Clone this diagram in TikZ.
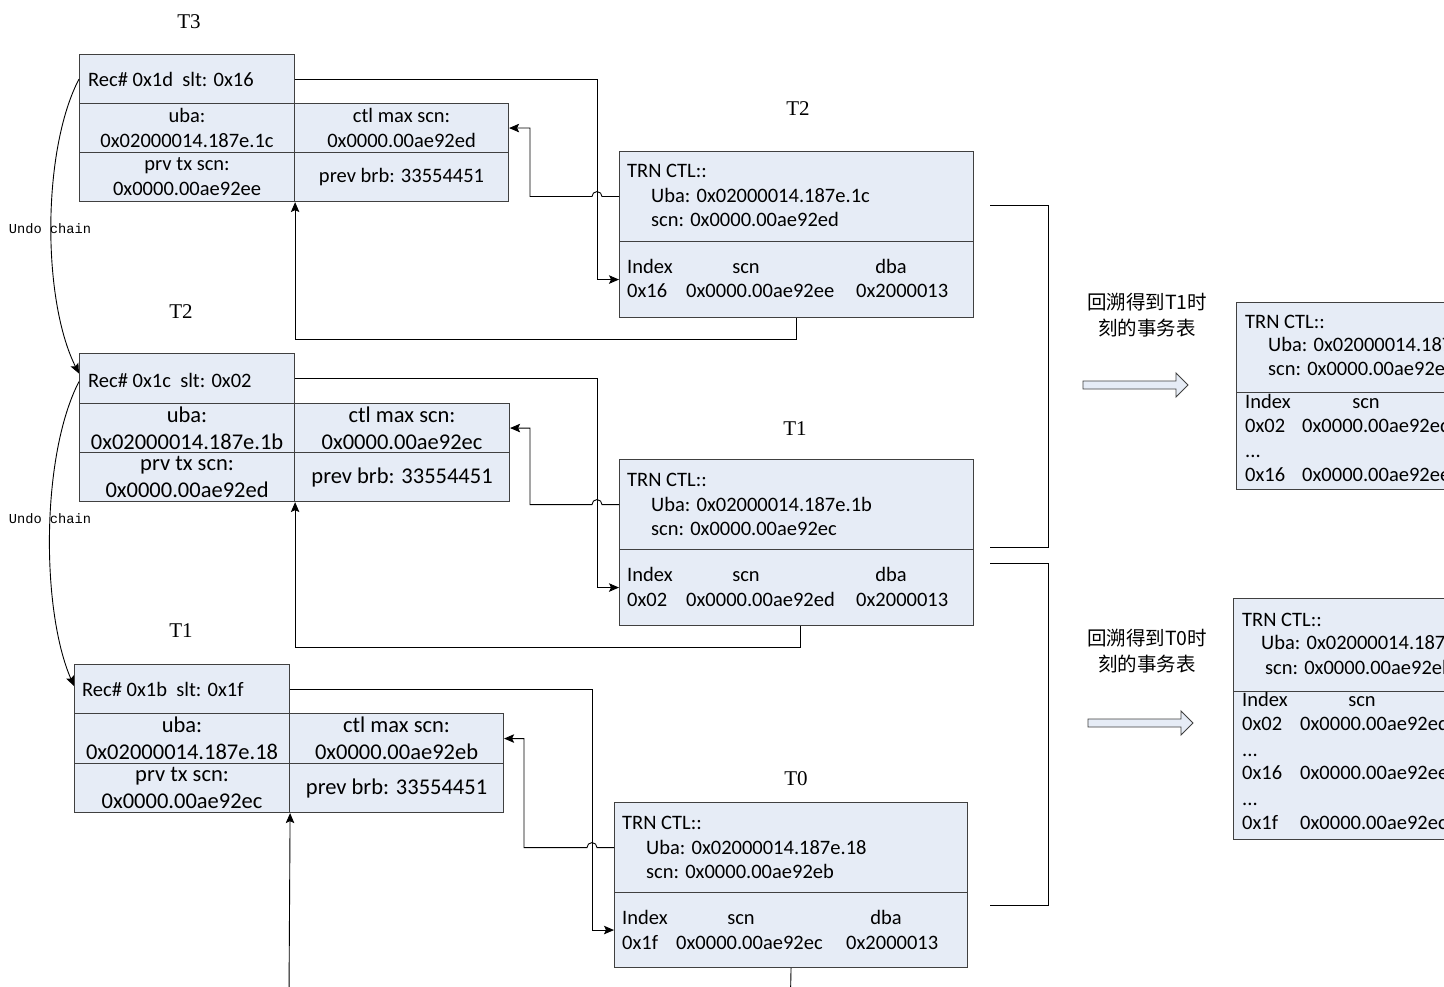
\documentclass[tikz,border=0pt]{standalone}
\usepackage{fontspec}
\setmainfont{Carlito}
\newfontfamily\labelfont{Liberation Serif}
\newfontfamily\chainfont{Liberation Mono}
\newfontfamily\cjkfont{Noto Sans CJK SC}
\usetikzlibrary{arrows.meta}
\definecolor{boxfill}{RGB}{230,236,246}
\definecolor{boxline}{RGB}{64,64,64}
\begin{document}
\begin{tikzpicture}[x=1pt,y=-1pt,
  >={Stealth[length=10pt,width=8.5pt,inset=2pt]},
  box/.style={draw=boxline, fill=boxfill, line width=1.1pt, inner sep=0pt, anchor=north west, align=center},
  fsmall/.style={font=\fontsize{20.5pt}{25pt}\selectfont},
  fbig/.style={font=\fontsize{22.5pt}{27pt}\selectfont},
  txt/.style={inner sep=0pt, anchor=base west, font=\fontsize{20.5pt}{25pt}\selectfont},
  ctxt/.style={txt, anchor=base},
  tlabel/.style={inner sep=0pt, font=\labelfont\fontsize{21pt}{25pt}\selectfont},
  conn/.style={line width=0.9pt, draw=black},
  chain/.style={inner sep=0pt, anchor=base, font=\chainfont\fontsize{13.7pt}{16pt}\selectfont},
  cjk/.style={inner sep=0pt, align=center, font=\cjkfont\fontsize{19.5pt}{26pt}\selectfont},
  blockarrow/.style={draw=boxline, fill=boxfill, line width=0.9pt, line join=miter}
]
\clip (0,0) rectangle (1444,987);
\fill[white] (0,0) rectangle (1444,987);

% ---------- T3 undo record ----------
\node[tlabel] (lt3) at (189,22) {T3};
\node[box,minimum width=215pt,minimum height=49pt] (rec3) at (79,54) {};
\node[txt] (rec3t) at (88,87) {Rec\# 0x1d~ slt: 0x16};
\node[box,fsmall,minimum width=215pt,minimum height=49pt] (uba3) at (79,103) {uba:\\0x02000014.187e.1c};
\node[box,fsmall,minimum width=214pt,minimum height=49pt] (ctl3) at (294,103) {ctl max scn:\\0x0000.00ae92ed};
\node[box,fsmall,minimum width=215pt,minimum height=49pt] (prv3) at (79,152) {prv tx scn:\\0x0000.00ae92ee};
\node[box,fsmall,minimum width=214pt,minimum height=49pt] (brb3) at (294,152) {prev brb: 33554451};

% ---------- T2 undo record ----------
\node[tlabel] (lt2) at (181,312) {T2};
\node[box,minimum width=215pt,minimum height=50pt] (rec2) at (79,353) {};
\node[txt] (rec2t) at (88,387) {Rec\# 0x1c~ slt: 0x02};
\node[box,fbig,minimum width=215pt,minimum height=49pt] (uba2) at (79,403) {uba:\\0x02000014.187e.1b};
\node[box,fbig,minimum width=215pt,minimum height=49pt] (ctl2) at (294,403) {ctl max scn:\\0x0000.00ae92ec};
\node[box,fbig,minimum width=215pt,minimum height=49pt] (prv2) at (79,452) {prv tx scn:\\0x0000.00ae92ed};
\node[box,fbig,minimum width=215pt,minimum height=49pt] (brb2) at (294,452) {prev brb: 33554451};

% ---------- T1 undo record ----------
\node[tlabel] (lt1) at (181,631) {T1};
\node[box,minimum width=215pt,minimum height=49pt] (rec1) at (74,664) {};
\node[txt] (rec1t) at (82,696) {Rec\# 0x1b~ slt: 0x1f};
\node[box,fbig,minimum width=215pt,minimum height=50pt] (uba1) at (74,713) {uba:\\0x02000014.187e.18};
\node[box,fbig,minimum width=214pt,minimum height=50pt] (ctl1) at (289,713) {ctl max scn:\\0x0000.00ae92eb};
\node[box,fbig,minimum width=215pt,minimum height=49pt] (prv1) at (74,763) {prv tx scn:\\0x0000.00ae92ec};
\node[box,fbig,minimum width=214pt,minimum height=49pt] (brb1) at (289,763) {prev brb: 33554451};

% ---------- TRN CTL at T2 ----------
\node[tlabel] (lr2) at (798,109) {T2};
\node[box,minimum width=354pt,minimum height=90pt] (trn2) at (619,151) {};
\node[box,minimum width=354pt,minimum height=76pt] (idx2) at (619,241) {};
\node[txt] (t2a) at (627,178) {TRN CTL::};
\node[txt] (t2b) at (651,203) {Uba: 0x02000014.187e.1c};
\node[txt] (t2c) at (651,227) {scn: 0x0000.00ae92ed};
\node[txt] (t2d) at (627,273) {Index};
\node[ctxt] (t2e) at (746,273) {scn};
\node[ctxt] (t2f) at (891,273) {dba};
\node[txt] (t2g) at (627,298) {0x16};
\node[txt] (t2h) at (686,298) {0x0000.00ae92ee};
\node[txt] (t2i) at (856,298) {0x2000013};

% ---------- TRN CTL at T1 ----------
\node[tlabel] (lr1) at (795,429) {T1};
\node[box,minimum width=354pt,minimum height=90pt] (trn1) at (619,459) {};
\node[box,minimum width=354pt,minimum height=76pt] (idx1) at (619,549) {};
\node[txt] (t1a) at (627,486) {TRN CTL::};
\node[txt] (t1b) at (651,511) {Uba: 0x02000014.187e.1b};
\node[txt] (t1c) at (651,535) {scn: 0x0000.00ae92ec};
\node[txt] (t1d) at (627,581) {Index};
\node[ctxt] (t1e) at (746,581) {scn};
\node[ctxt] (t1f) at (891,581) {dba};
\node[txt] (t1g) at (627,606) {0x02};
\node[txt] (t1h) at (686,606) {0x0000.00ae92ed};
\node[txt] (t1i) at (856,606) {0x2000013};

% ---------- TRN CTL at T0 ----------
\node[tlabel] (lr0) at (796,779) {T0};
\node[box,minimum width=353pt,minimum height=90pt] (trn0) at (614,802) {};
\node[box,minimum width=353pt,minimum height=75pt] (idx0) at (614,892) {};
\node[txt] (t0a) at (622,829) {TRN CTL::};
\node[txt] (t0b) at (646,854) {Uba: 0x02000014.187e.18};
\node[txt] (t0c) at (646,878) {scn: 0x0000.00ae92eb};
\node[txt] (t0d) at (622,924) {Index};
\node[ctxt] (t0e) at (741,924) {scn};
\node[ctxt] (t0f) at (886,924) {dba};
\node[txt] (t0g) at (622,949) {0x1f};
\node[txt] (t0h) at (676,949) {0x0000.00ae92ec};
\node[txt] (t0i) at (846,949) {0x2000013};

% ---------- connectors ----------
\draw[conn,->] (rec3.east) -| ([xshift=-22pt]idx2.west) -- (idx2.west);
\draw[conn,->] (trn2.west) -- ([xshift=-17pt]trn2.west) arc[start angle=0,end angle=180,radius=5pt] -- ([xshift=-89pt]trn2.west) |- (ctl3.east);
\draw[conn,->] (idx2.south) -- ++(0,21) -| (prv3.south east);

\draw[conn,->] (rec2.east) -| ([xshift=-22pt]idx1.west) -- (idx1.west);
\draw[conn,->] (trn1.west) -- ([xshift=-17pt]trn1.west) arc[start angle=0,end angle=180,radius=5pt] -- ([xshift=-89pt]trn1.west) |- (ctl2.east);
\draw[conn,->] ([xshift=4pt]idx1.south) -- ++(0,21) -| (prv2.south east);

\draw[conn,->] (rec1.east) -| ([xshift=-22pt]idx0.west) -- (idx0.west);
\draw[conn,->] (trn0.west) -- ([xshift=-17pt]trn0.west) arc[start angle=0,end angle=180,radius=5pt] -- ([xshift=-90pt]trn0.west) |- (ctl1.east);
\coordinate (b0) at (790.5,995);
\coordinate (b1) at (289,995);
\draw[conn] (idx0.south) -- (b0);
\draw[conn,->] (b1) -- (prv1.south east);

% undo chain
\draw[conn,->] (rec3.west) .. controls (42,150) and (42,300) .. ([yshift=5pt]rec2.west);
\draw[conn,->] ([yshift=-3pt]rec2.west) .. controls (41,455) and (41,610) .. ([yshift=3pt]rec1.west);
\node[chain] (uc1) at (50,234) {Undo chain};
\node[chain] (uc2) at (50,523) {Undo chain};

% brackets
\coordinate (k1a) at (990,205);
\coordinate (k1b) at (990,547);
\coordinate (k2a) at (990,563);
\coordinate (k2b) at (990,905);
\draw[conn] (k1a) -- ++(58,0) |- (k1b);
\draw[conn] (k2a) -- ++(58,0) |- (k2b);

% captions and block arrows
\node[cjk] (cap1) at (1147,315) {回溯得到T1时\\刻的事务表};
\node[cjk] (cap2) at (1147,651) {回溯得到T0时\\刻的事务表};
\draw[blockarrow] (1083,381) -- (1176,381) -- (1176,373) -- (1188,385) -- (1176,397) -- (1176,389) -- (1083,389) -- cycle;
\draw[blockarrow] (1088,719) -- (1181,719) -- (1181,711) -- (1193,723) -- (1181,735) -- (1181,727) -- (1088,727) -- cycle;

% ---------- resulting table at T1 ----------
\node[box,minimum width=260pt,minimum height=90pt] (tab1) at (1236,302) {};
\node[box,minimum width=260pt,minimum height=97pt] (tab1i) at (1236,392) {};
\node[txt] (s1a) at (1245,328) {TRN CTL::};
\node[txt] (s1b) at (1268,352) {Uba: 0x02000014.187e.1b};
\node[txt] (s1c) at (1268,375) {scn: 0x0000.00ae92ec};
\node[txt] (s1d) at (1245,408) {Index};
\node[ctxt] (s1e) at (1366,408) {scn};
\node[txt] (s1f) at (1245,432) {0x02};
\node[txt] (s1g) at (1302,432) {0x0000.00ae92ed};
\node[txt] (s1h) at (1245,457) {...};
\node[txt] (s1i) at (1245,481) {0x16};
\node[txt] (s1j) at (1302,481) {0x0000.00ae92ee};

% ---------- resulting table at T0 ----------
\node[box,minimum width=260pt,minimum height=93pt] (tab2) at (1233,598) {};
\node[box,minimum width=260pt,minimum height=148pt] (tab2i) at (1233,691) {};
\node[txt] (s2a) at (1242,626) {TRN CTL::};
\node[txt] (s2b) at (1261,649) {Uba: 0x02000014.187e.18};
\node[txt] (s2c) at (1265,674) {scn: 0x0000.00ae92eb};
\node[txt] (s2d) at (1242,706) {Index};
\node[ctxt] (s2e) at (1362,706) {scn};
\node[txt] (s2f) at (1242,730) {0x02};
\node[txt] (s2g) at (1300,730) {0x0000.00ae92ed};
\node[txt] (s2h) at (1242,756) {...};
\node[txt] (s2i) at (1242,779) {0x16};
\node[txt] (s2j) at (1300,779) {0x0000.00ae92ee};
\node[txt] (s2k) at (1242,805) {...};
\node[txt] (s2l) at (1242,829) {0x1f};
\node[txt] (s2m) at (1300,829) {0x0000.00ae92ec};
\end{tikzpicture}
\end{document}
